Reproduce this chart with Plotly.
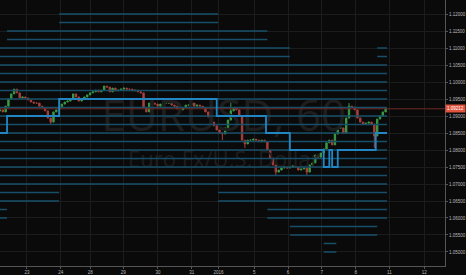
import plotly.graph_objects as go

# ---- data -------------------------------------------------------------
tick_pos = [19.1, 43.1, 64.2, 87.5, 112.2, 136.2, 155.3, 180.7, 204.7, 228.7, 252.7, 276.7, 301.4]
tick_text = ["23", "24", "28", "29", "30", "31", "2016", "5", "6", "7", "8", "11", "12"]

bar_index = list(range(0, 276, 2))
closes = [
    1.0918, 1.0912, 1.0929, 1.0950, 1.0965, 1.0979, 1.0968, 1.0953, 1.0956, 1.0953,
    1.0947, 1.0941, 1.0938, 1.0938, 1.0929, 1.0924, 1.0915, 1.0894, 1.0882, 1.0912,
    1.0918, 1.0924, 1.0935, 1.0941, 1.0944, 1.0950, 1.0965, 1.0956, 1.0944, 1.0950,
    1.0956, 1.0962, 1.0968, 1.0971, 1.0976, 1.0971, 1.0976, 1.0988, 1.0985, 1.0971,
    1.0982, 1.0974, 1.0976, 1.0979, 1.0982, 1.0979, 1.0979, 1.0974, 1.0976, 1.0971,
    1.0968, 1.0924, 1.0912, 1.0938, 1.0938, 1.0935, 1.0929, 1.0935, 1.0938, 1.0938,
    1.0938, 1.0932, 1.0929, 1.0921, 1.0918, 1.0924, 1.0932, 1.0932, 1.0938, 1.0929,
    1.0932, 1.0929, 1.0924, 1.0912, 1.0897, 1.0882, 1.0871, 1.0859, 1.0850, 1.0847,
    1.0865, 1.0888, 1.0915, 1.0924, 1.0918, 1.0900, 1.0829, 1.0818, 1.0829, 1.0829,
    1.0832, 1.0829, 1.0824, 1.0829, 1.0824, 1.0800, 1.0776, 1.0756, 1.0735, 1.0741,
    1.0747, 1.0750, 1.0747, 1.0750, 1.0753, 1.0750, 1.0741, 1.0744, 1.0747, 1.0735,
    1.0756, 1.0762, 1.0785, 1.0779, 1.0791, 1.0803, 1.0821, 1.0829, 1.0815, 1.0847,
    1.0865, 1.0865, 1.0850, 1.0894, 1.0929, 1.0926, 1.0918, 1.0894, 1.0882, 1.0876,
    1.0879, 1.0882, 1.0876, 1.0841, 1.0891, 1.0900, 1.0912, 1.09212,
]
first_open = 1.0915
# bar -> (high, low) wick extremes seen in the picture
wick_spikes = {36: (None, 1.0874), 158: (None, 1.0829), 164: (1.0947, None),
               174: (None, 1.0806), 196: (None, 1.0724), 218: (None, 1.0726),
               248: (1.0938, None), 266: (None, 1.0806)}

level_prices = [1.1200, 1.1175, 1.1150, 1.1125, 1.1100, 1.1075, 1.1050, 1.1025,
                1.1000, 1.0975, 1.0950, 1.0925, 1.0900, 1.0875, 1.0850, 1.0825,
                1.0800, 1.0775, 1.0750, 1.0725, 1.0700, 1.0675, 1.0650, 1.0625,
                1.0600, 1.0575, 1.0550, 1.0525, 1.0500]
level_spans = [
    [(42, 155)], [(42, 155)], [(5, 190)], [(5, 190)],
    [(0, 206), (268, 275)], [(0, 206), (268, 275)],
    [(0, 275)], [(0, 275)], [(0, 275)], [(0, 275)], [(0, 275)], [(0, 275)],
    [(0, 275)], [(0, 275)], [(0, 275)], [(0, 275)], [(0, 275)], [(0, 275)],
    [(0, 275)], [(0, 275)], [(0, 275)],
    [(0, 42), (155, 275)], [(0, 42), (155, 275)],
    [(0, 5), (190, 275)], [(0, 5), (190, 275)],
    [(206, 268)], [(206, 268)],
    [(230, 239)], [(230, 239)],
]

step_x = [0, 5, 42, 154, 189, 206, 230, 234, 236, 240, 267, 275]
step_y = [1.085, 1.090, 1.095, 1.090, 1.085, 1.080, 1.075, 1.080, 1.075, 1.080, 1.085, 1.085]

last_price = closes[-1]
symbol_text = "EURUSD, 60"
desc_text = "Euro Fx/U.S. Dollar"

# ---- build ------------------------------------------------------------
opens = [first_open] + closes[:-1]
highs, lows = [], []
for b, o, c in zip(bar_index, opens, closes):
    h, l = max(o, c), min(o, c)
    if b in wick_spikes:
        sh, sl = wick_spikes[b]
        if sh is not None:
            h = max(h, sh)
        if sl is not None:
            l = min(l, sl)
    highs.append(h)
    lows.append(l)

lx, ly = [], []
for p, spans in zip(level_prices, level_spans):
    for a, b in spans:
        lx += [a, b, None]
        ly += [p, p, None]

fig = go.Figure()
# watermark (drawn first, underneath everything)
fig.add_trace(go.Scatter(x=[159, 159], y=[1.0888, 1.0767], mode="text",
                         text=[symbol_text, desc_text], hoverinfo="skip",
                         textfont=dict(family="Open Sans", size=[44, 22],
                                       color="#1e1e1e")))
fig.add_trace(go.Scatter(x=lx, y=ly, mode="lines",
                         line=dict(color="#174f69", width=1.5), hoverinfo="skip"))
fig.add_trace(go.Scatter(x=[0, 316.2], y=[last_price, last_price], mode="lines",
                         line=dict(color="#6e2a26", width=1), hoverinfo="skip"))
fig.add_trace(go.Candlestick(
    x=bar_index, open=opens, high=highs, low=lows, close=closes,
    increasing=dict(line=dict(color="#3a9a44", width=1), fillcolor="#3a9a44"),
    decreasing=dict(line=dict(color="#a8403c", width=1), fillcolor="#a8403c"),
    whiskerwidth=0,
))
fig.add_trace(go.Scatter(x=step_x, y=step_y, mode="lines", line_shape="hv",
                         line=dict(color="#2286c4", width=1.8), hoverinfo="skip"))

fig.add_annotation(x=1, y=last_price, xref="paper", yref="y", xanchor="left",
                   text=f"{last_price:.5f}", showarrow=False, bgcolor="#e0533f",
                   borderpad=1, font=dict(family="Arial", size=4.5, color="#ffffff"))

fig.update_layout(
    width=466, height=275, margin=dict(l=0, r=18, t=0, b=9),
    paper_bgcolor="#0a0a0a", plot_bgcolor="#0a0a0a", showlegend=False,
    xaxis=dict(range=[0, 316.2], tickvals=tick_pos, ticktext=tick_text,
               showgrid=True, gridcolor="#1c1c1c", gridwidth=1,
               showline=True, linecolor="#555555", zeroline=False,
               ticks="outside", ticklen=2, tickcolor="#555555",
               tickfont=dict(family="Arial", size=4.5, color="#bbbbbb"),
               rangeslider=dict(visible=False), fixedrange=True),
    yaxis=dict(range=[1.04588, 1.12412], side="right", dtick=0.005, tick0=1.05,
               tickformat=".5f", showgrid=True, gridcolor="#1c1c1c", gridwidth=1,
               showline=True, linecolor="#555555", zeroline=False,
               ticks="outside", ticklen=2, tickcolor="#555555",
               tickfont=dict(family="Arial", size=4.5, color="#bbbbbb"),
               fixedrange=True),
)

fig.write_html("out.html")
